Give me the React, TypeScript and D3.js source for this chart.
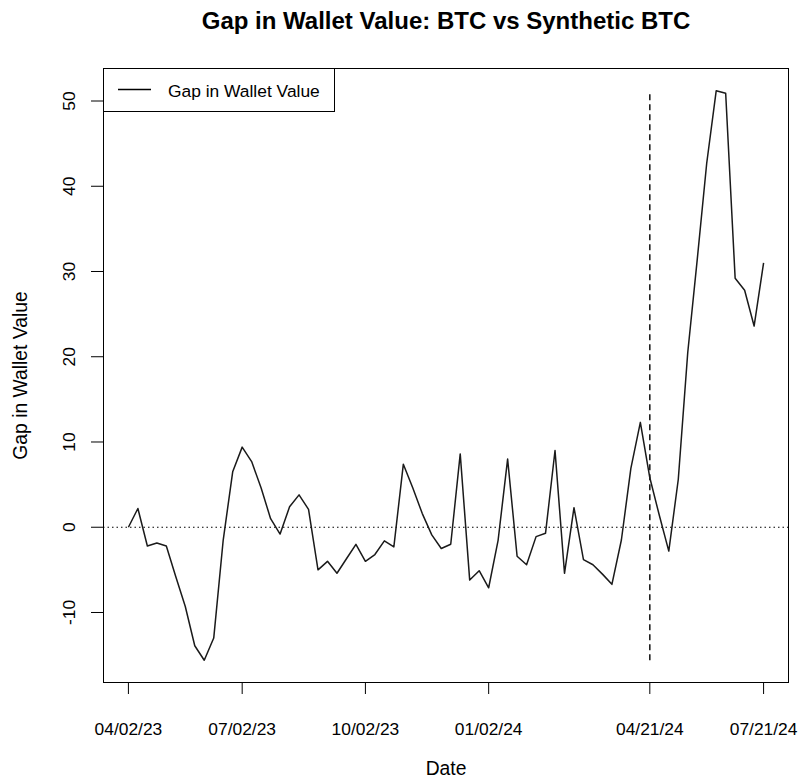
import React from "react";
import * as d3 from "d3";

const gapValues: number[] = [
  0.0, 2.2, -2.2, -1.85, -2.2, -5.8, -9.3, -13.9, -15.6, -13.0,
  -1.5, 6.5, 9.4, 7.7, 4.6, 1.0, -0.8, 2.4, 3.8, 2.1,
  -5.0, -4.0, -5.4, -3.7, -2.0, -4.0, -3.2, -1.6, -2.3, 7.4,
  4.6, 1.6, -0.9, -2.5, -2.0, 8.6, -6.2, -5.1, -7.1, -1.5,
  8.0, -3.4, -4.4, -1.1, -0.7, 9.0, -5.4, 2.3, -3.8, -4.4,
  -5.5, -6.7, -1.5, 6.9, 12.3, 5.8, 1.4, -2.8, 5.6, 20.5,
  31.4, 42.7, 51.2, 50.9, 29.2, 27.8, 23.6, 31.0,
];

const xTickIndex: number[] = [0, 12, 25, 38, 55, 67];
const xTickLabels: string[] = ["04/02/23", "07/02/23", "10/02/23", "01/02/24", "04/21/24", "07/21/24"];
const yTicks: number[] = [-10, 0, 10, 20, 30, 40, 50];
const markerIndex = 55;

const W = 799;
const H = 778;
const L = 103, R = 789, T = 68, B = 683;
const FONT = "'Liberation Sans', Arial, Helvetica, sans-serif";

export default function App() {
  const n = gapValues.length;
  const xr = n - 1;
  const x = d3.scaleLinear().domain([-0.04 * xr, xr + 0.04 * xr]).range([L, R]);
  const ymin = d3.min(gapValues)!;
  const ymax = d3.max(gapValues)!;
  const yr = ymax - ymin;
  const y = d3.scaleLinear().domain([ymin - 0.04 * yr, ymax + 0.04 * yr]).range([B, T]);

  const line = d3
    .line<number>()
    .x((_, i) => x(i))
    .y((d) => y(d));

  const tickLen = 11;

  return (
    <svg
      width={W}
      height={H}
      style={{ position: "absolute", left: 0, top: 0, background: "#fff" }}
      fontFamily={FONT}
    >
      <rect x={0} y={0} width={W} height={H} fill="#fff" />
      {/* title */}
      <text x={(L + R) / 2} y={29} textAnchor="middle" fontSize={24} fontWeight="bold" fill="#000">
        Gap in Wallet Value: BTC vs Synthetic BTC
      </text>

      {/* zero reference line */}
      <line
        x1={L}
        x2={R}
        y1={y(0)}
        y2={y(0)}
        stroke="#000"
        strokeWidth={1.2}
        strokeDasharray="1.5,3"
      />

      {/* vertical marker */}
      <line
        x1={x(markerIndex)}
        x2={x(markerIndex)}
        y1={y(ymin)}
        y2={y(ymax)}
        stroke="#000"
        strokeWidth={1.4}
        strokeDasharray="6,4"
      />

      {/* data line */}
      <path d={line(gapValues) || ""} fill="none" stroke="#1a1a1a" strokeWidth={1.5} strokeLinejoin="round" />

      {/* box */}
      <rect x={L + 0.5} y={T + 0.5} width={R - L - 1} height={B - T - 1} fill="none" stroke="#000" strokeWidth={1} />

      {/* x axis ticks */}
      {xTickIndex.map((idx, i) => (
        <g key={"xt" + i}>
          <line x1={x(idx)} x2={x(idx)} y1={B} y2={B + tickLen} stroke="#000" strokeWidth={1} />
          <text x={x(idx)} y={735} textAnchor="middle" fontSize={17.4} fill="#000">
            {xTickLabels[i]}
          </text>
        </g>
      ))}

      {/* y axis ticks */}
      {yTicks.map((v) => (
        <g key={"yt" + v}>
          <line x1={L - tickLen - 1} x2={L} y1={y(v)} y2={y(v)} stroke="#000" strokeWidth={1} />
          <text
            transform={`translate(74.5,${y(v)}) rotate(-90)`}
            textAnchor="middle"
            fontSize={17.4}
            fill="#000"
          >
            {v}
          </text>
        </g>
      ))}

      {/* axis titles */}
      <text x={(L + R) / 2} y={775} textAnchor="middle" fontSize={19.3} fill="#000">
        Date
      </text>
      <text
        transform={`translate(27,${(T + B) / 2}) rotate(-90)`}
        textAnchor="middle"
        fontSize={19.3}
        fill="#000"
      >
        Gap in Wallet Value
      </text>

      {/* legend */}
      <rect x={L + 0.5} y={T + 0.5} width={231} height={43} fill="#fff" stroke="#000" strokeWidth={1} />
      <line x1={118} x2={151} y1={89.5} y2={89.5} stroke="#000" strokeWidth={1.4} />
      <text x={168} y={97} fontSize={17.4} fill="#000">
        Gap in Wallet Value
      </text>
    </svg>
  );
}
